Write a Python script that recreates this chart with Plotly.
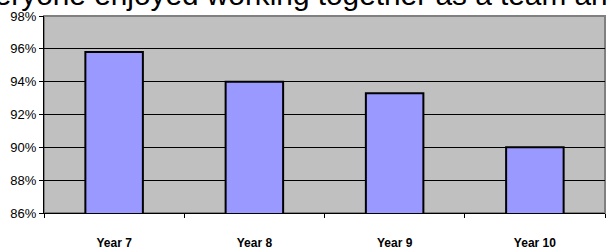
import plotly.graph_objects as go

categories = ["Year 7", "Year 8", "Year 9", "Year 10"]
values = [0.958, 0.940, 0.933, 0.900]
y_ticks = [0.86, 0.88, 0.90, 0.92, 0.94, 0.96, 0.98]
title_text = "Everyone enjoyed working together as a team and everyone helped"

fig = go.Figure()
fig.add_trace(go.Bar(
    x=categories, y=values, width=0.41,
    marker=dict(color="#9999FF", line=dict(color="black", width=2)),
))

fig.update_layout(
    width=609, height=251,
    margin=dict(l=44, r=4, t=16, b=38, autoexpand=False),
    paper_bgcolor="white", plot_bgcolor="#C0C0C0",
    showlegend=False,
    font=dict(family="Liberation Sans, Arial, sans-serif", color="black"),
    shapes=[dict(type="rect", xref="paper", yref="paper", x0=0, x1=1, y0=0, y1=1,
                 line=dict(color="#808080", width=2), layer="below")],
    annotations=[dict(text=title_text, xref="paper", yref="paper", x=0, y=1,
                      xanchor="left", yanchor="bottom", xshift=-86, yshift=3,
                      showarrow=False, font=dict(size=29.8, color="black"))],
)
fig.update_xaxes(
    automargin=False,
    showline=True, linecolor="black", linewidth=1,
    ticks="outside", tickson="boundaries", ticklen=4, tickcolor="black",
    tickfont=dict(size=12, family="Liberation Sans, Arial, sans-serif", weight="bold"),
    ticklabelstandoff=19, showgrid=False,
)
fig.update_yaxes(
    automargin=False,
    range=[0.86, 0.98], tickvals=y_ticks, tickformat=".0%",
    showline=True, linecolor="black", linewidth=1,
    ticks="outside", ticklen=4, tickcolor="black",
    showgrid=True, gridcolor="black", gridwidth=1,
    tickfont=dict(size=13), zeroline=False,
)

fig.write_html("out.html", config={"displayModeBar": False},
               post_script="document.body.style.margin='0';")
